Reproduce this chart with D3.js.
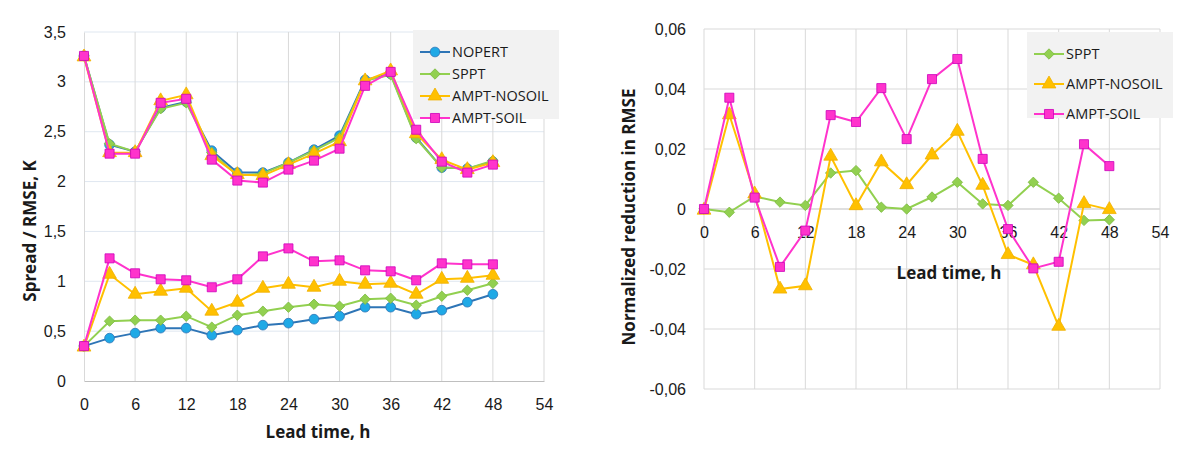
<!DOCTYPE html>
<html>
<head>
<meta charset="utf-8">
<script src="https://cdn.jsdelivr.net/npm/d3@7"></script>
<style>
  body { margin: 0; background: #fff; }
  svg { font-family: "Open Sans", "Noto Sans", sans-serif; }
  .tick text { font-size: 16px; fill: #1a1a1a; }
  .ttl { font-size: 17px; font-weight: bold; fill: #1a1a1a; }
  .leg { font-size: 14.5px; fill: #1a1a1a; }
</style>
</head>
<body>
<svg id="chart" width="1200" height="461"></svg>
<script>
// lead times (h)
var leadTime = [0, 3, 6, 9, 12, 15, 18, 21, 24, 27, 30, 33, 36, 39, 42, 45, 48]

// left panel: RMSE (upper curves)
var nopertRmse = [3.26, 2.37, 2.30, 2.74, 2.80, 2.31, 2.09, 2.09, 2.19, 2.32, 2.46, 3.02, 3.08, 2.44, 2.14, 2.13, 2.20]
var spptRmse   = [3.26, 2.38, 2.30, 2.73, 2.79, 2.29, 2.06, 2.08, 2.19, 2.31, 2.44, 3.01, 3.07, 2.43, 2.14, 2.13, 2.21]
var nosoilRmse = [3.25, 2.29, 2.29, 2.81, 2.87, 2.26, 2.07, 2.06, 2.17, 2.28, 2.40, 3.01, 3.11, 2.48, 2.22, 2.12, 2.19]
var soilRmse   = [3.26, 2.28, 2.28, 2.79, 2.83, 2.22, 2.01, 1.99, 2.12, 2.21, 2.33, 2.96, 3.10, 2.52, 2.20, 2.09, 2.17]

// left panel: spread (lower curves)
var nopertSpread = [0.35, 0.43, 0.48, 0.53, 0.53, 0.46, 0.51, 0.56, 0.58, 0.62, 0.65, 0.74, 0.74, 0.67, 0.71, 0.79, 0.87]
var spptSpread   = [0.35, 0.60, 0.61, 0.61, 0.65, 0.54, 0.66, 0.70, 0.74, 0.77, 0.75, 0.82, 0.83, 0.76, 0.85, 0.91, 0.98]
var nosoilSpread = [0.34, 1.07, 0.87, 0.90, 0.93, 0.70, 0.79, 0.93, 0.97, 0.94, 1.00, 0.97, 0.98, 0.87, 1.02, 1.03, 1.06]
var soilSpread   = [0.35, 1.23, 1.08, 1.02, 1.01, 0.94, 1.02, 1.25, 1.33, 1.20, 1.21, 1.11, 1.10, 1.01, 1.18, 1.17, 1.17]

// right panel: normalized reduction in RMSE
var spptRed   = [0, -0.0011, 0.0042, 0.0023, 0.0012, 0.0120, 0.0128, 0.0006, 0, 0.0040, 0.0089, 0.0017, 0.0012, 0.0089, 0.0036, -0.0038, -0.0036]
var nosoilRed = [-0.0004, 0.0314, 0.0050, -0.0267, -0.0256, 0.0176, 0.0011, 0.0157, 0.0081, 0.0180, 0.0259, 0.0079, -0.0152, -0.0186, -0.0391, 0.0018, -0.0002]
var soilRed   = [0, 0.0371, 0.0038, -0.0193, -0.0072, 0.0313, 0.0290, 0.0403, 0.0233, 0.0433, 0.0500, 0.0167, -0.0067, -0.0198, -0.0176, 0.0216, 0.0143]

var xTicks = [0, 6, 12, 18, 24, 30, 36, 42, 48, 54]
var leftYTicks = [0, 0.5, 1, 1.5, 2, 2.5, 3, 3.5]
var rightYTicks = [-0.06, -0.04, -0.02, 0, 0.02, 0.04, 0.06]

var series = {
    NOPERT: {line: "#2E75B6", fill: "#1FA9E6", stroke: "#2E75B6", sym: "circle"},
    SPPT: {line: "#92D050", fill: "#92D050", stroke: "#7DBB42", sym: "diamond"},
    "AMPT-NOSOIL": {line: "#FFC000", fill: "#FFC000", stroke: "#F0B000", sym: "triangle"},
    "AMPT-SOIL": {line: "#FF33CC", fill: "#FF33CC", stroke: "#CC00BB", sym: "square"}
}

var svg = d3.select("#chart")
var fmt = d => String(d).replace(".", ",")

function symPath(kind) {
    if (kind == "circle") return d3.symbol().type(d3.symbolCircle).size(74)()
    if (kind == "triangle") return d3.symbol().type(d3.symbolTriangle).size(82)()
    if (kind == "square") return d3.symbol().type(d3.symbolSquare).size(82)()
    return d3.symbol().type(d3.symbolSquare).size(54)()
}

function drawSeries(g, x, y, name, vals) {
    var s = series[name]
    var pts = leadTime.map((t, i) => [t, vals[i]])
    g.append("path")
        .datum(pts)
        .attr("fill", "none")
        .attr("stroke", s.line)
        .attr("stroke-width", 2)
        .attr("d", d3.line().x(d => x(d[0])).y(d => y(d[1])))
    g.append("g").selectAll("path")
        .data(pts)
        .enter()
        .append("path")
        .attr("d", symPath(s.sym))
        .attr("transform", d => "translate(" + x(d[0]) + "," + y(d[1]) + ")" + (s.sym == "diamond" ? " rotate(45)" : ""))
        .attr("fill", s.fill)
        .attr("stroke", s.stroke)
        .attr("stroke-width", 0.8)
}

function drawLegend(g, names, x0, y0, w, h, step) {
    g.append("rect")
        .attr("x", x0).attr("y", y0).attr("width", w).attr("height", h)
        .attr("fill", "#f2f2f2")
    names.forEach((n, i) => {
        var s = series[n]
        var cy = y0 + 11 + step / 2 + i * step - (step - 22) / 2
        g.append("line")
            .attr("x1", x0 + 7).attr("x2", x0 + 37)
            .attr("y1", cy).attr("y2", cy)
            .attr("stroke", s.line).attr("stroke-width", 2)
        g.append("path")
            .attr("d", symPath(s.sym))
            .attr("transform", "translate(" + (x0 + 22) + "," + cy + ")" + (s.sym == "diamond" ? " rotate(45)" : ""))
            .attr("fill", s.fill).attr("stroke", s.stroke).attr("stroke-width", 0.8)
        g.append("text")
            .attr("class", "leg")
            .attr("x", x0 + 39).attr("y", cy)
            .attr("dy", "0.36em")
            .text(n)
    })
}

// ---------- left panel ----------
var xL = d3.scaleLinear().domain([0, 54]).range([84, 544])
var yL = d3.scaleLinear().domain([0, 3.5]).range([381, 32])
var gL = svg.append("g")

gL.append("g").selectAll("line")
    .data(leftYTicks.slice(1))
    .enter().append("line")
    .attr("x1", xL(0)).attr("x2", xL(54))
    .attr("y1", d => yL(d)).attr("y2", d => yL(d))
    .attr("stroke", "#dfe7f0").attr("stroke-width", 1)
gL.append("g").selectAll("line")
    .data(xTicks.slice(1))
    .enter().append("line")
    .attr("x1", d => xL(d)).attr("x2", d => xL(d))
    .attr("y1", yL(0)).attr("y2", yL(3.5))
    .attr("stroke", "#d9d9d9").attr("stroke-width", 1)

gL.append("g")
    .attr("transform", "translate(0," + yL(0) + ")")
    .call(d3.axisBottom(xL).tickValues(xTicks).tickSize(0).tickPadding(18))
    .call(g => g.select(".domain").attr("stroke", "#bfbfbf"))
gL.append("g")
    .attr("transform", "translate(" + xL(0) + ",0)")
    .call(d3.axisLeft(yL).tickValues(leftYTicks).tickFormat(fmt).tickSize(0).tickPadding(18))
    .call(g => g.select(".domain").attr("stroke", "#d9d9d9"))

gL.append("text").attr("class", "ttl")
    .attr("x", 318).attr("y", 438).attr("text-anchor", "middle")
    .text("Lead time, h")
gL.append("text").attr("class", "ttl")
    .attr("transform", "translate(36,231) rotate(-90)")
    .attr("text-anchor", "middle")
    .text("Spread / RMSE, K")

drawSeries(gL, xL, yL, "NOPERT", nopertRmse)
drawSeries(gL, xL, yL, "SPPT", spptRmse)
drawSeries(gL, xL, yL, "AMPT-NOSOIL", nosoilRmse)
drawSeries(gL, xL, yL, "AMPT-SOIL", soilRmse)
drawSeries(gL, xL, yL, "NOPERT", nopertSpread)
drawSeries(gL, xL, yL, "SPPT", spptSpread)
drawSeries(gL, xL, yL, "AMPT-NOSOIL", nosoilSpread)
drawSeries(gL, xL, yL, "AMPT-SOIL", soilSpread)

drawLegend(gL, ["NOPERT", "SPPT", "AMPT-NOSOIL", "AMPT-SOIL"], 413, 30, 146, 89, 22)

// ---------- right panel ----------
var xR = d3.scaleLinear().domain([0, 54]).range([704, 1160])
var yR = d3.scaleLinear().domain([-0.06, 0.06]).range([389, 29])
var gR = svg.append("g")

gR.append("g").selectAll("line")
    .data(rightYTicks)
    .enter().append("line")
    .attr("x1", xR(0)).attr("x2", xR(54))
    .attr("y1", d => yR(d)).attr("y2", d => yR(d))
    .attr("stroke", d => d == 0 ? "#bfbfbf" : "#d9d9d9").attr("stroke-width", 1)
gR.append("g").selectAll("line")
    .data(xTicks)
    .enter().append("line")
    .attr("x1", d => xR(d)).attr("x2", d => xR(d))
    .attr("y1", yR(-0.06)).attr("y2", yR(0.06))
    .attr("stroke", "#d9d9d9").attr("stroke-width", 1)

gR.append("g")
    .attr("transform", "translate(0," + yR(0) + ")")
    .call(d3.axisBottom(xR).tickValues(xTicks).tickSize(0).tickPadding(18))
    .call(g => g.select(".domain").remove())
gR.append("g")
    .attr("transform", "translate(" + xR(0) + ",0)")
    .call(d3.axisLeft(yR).tickValues(rightYTicks).tickFormat(fmt).tickSize(0).tickPadding(18))
    .call(g => g.select(".domain").remove())

gR.append("text").attr("class", "ttl")
    .attr("x", 949).attr("y", 279).attr("text-anchor", "middle")
    .text("Lead time, h")
gR.append("text").attr("class", "ttl")
    .attr("transform", "translate(635,217) rotate(-90)")
    .attr("text-anchor", "middle")
    .text("Normalized reduction in RMSE")

drawSeries(gR, xR, yR, "SPPT", spptRed)
drawSeries(gR, xR, yR, "AMPT-NOSOIL", nosoilRed)
drawSeries(gR, xR, yR, "AMPT-SOIL", soilRed)

drawLegend(gR, ["SPPT", "AMPT-NOSOIL", "AMPT-SOIL"], 1027, 32, 146, 86, 30)
</script>
</body>
</html>
